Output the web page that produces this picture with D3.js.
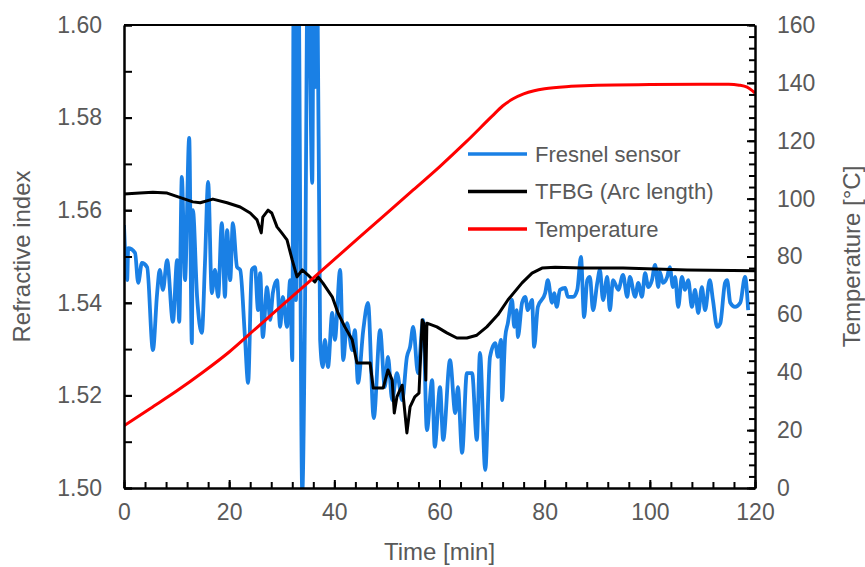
<!DOCTYPE html>
<html>
<head>
<meta charset="utf-8">
<script src="https://cdn.jsdelivr.net/npm/d3@7"></script>
<style>
  body { margin: 0; background: #fff; }
  svg text { font-family: "Liberation Sans", Arial, sans-serif; fill: #595959; }
</style>
</head>
<body>
<div id="chart"></div>
<script>
// Fresnel sensor (refractive index)
let fresnelTime = [0,0.6,0.8,2.1,2.7,3.4,4.4,5.5,6.3,6.8,7.4,8.2,9.3,10.1,10.5,11.0,11.6,12.4,12.9,13.1,13.9,14.8,15.4,16.0,16.7,17.3,17.9,18.6,19.2,19.6,20.2,20.7,21.5,22.1,23.0,23.6,24.3,24.9,25.5,25.9,26.4,27.2,27.8,28.3,29.1,29.7,30.2,31.0,31.6,32.0,32.3,32.7,33.1,33.9,34.4,35.0,35.8,36.1,36.3,36.7,37.3,37.8,38.2,38.8,39.6,40.1,41.1,41.7,42.4,43.4,43.9,44.5,45.5,46.4,47.5,48.7,49.6,50.2,51.0,51.9,52.9,53.8,54.4,55.0,55.9,56.9,57.6,58.6,59.1,60.1,60.7,62.0,63.0,63.5,64.3,65.2,66.2,67.1,67.7,68.7,69.6,70.6,71.1,71.7,71.9,72.5,73.0,73.8,74.2,74.7,74.9,75.7,76.3,76.8,77.6,78.0,78.7,80.1,80.6,81.4,81.8,82.3,82.9,83.9,84.4,85.4,86.2,86.9,87.5,88.1,88.6,89.2,90.0,90.5,91.1,91.9,92.4,93.0,94.0,94.9,95.7,96.2,97.2,97.8,98.5,99.1,99.7,100.4,101.0,101.6,101.9,102.5,103.3,103.8,104.4,104.8,105.4,106.1,106.7,107.3,108.0,108.6,109.2,109.9,110.5,111.4,112.0,112.8,113.4,114.3,114.7,115.3,116.2,117.2,118.1,118.7];
let fresnelRI = [1.5568,1.5449,1.5518,1.5508,1.5443,1.5486,1.5477,1.5298,1.5421,1.5471,1.5428,1.5492,1.5359,1.5492,1.5359,1.5672,1.5449,1.5756,1.5313,1.5600,1.5413,1.5335,1.5486,1.5661,1.5421,1.5471,1.5413,1.5572,1.5413,1.5557,1.5449,1.5572,1.5477,1.5471,1.5326,1.5227,1.5471,1.5477,1.5384,1.5464,1.5326,1.5434,1.5363,1.5421,1.5449,1.5348,1.5413,1.5348,1.5449,1.5276,1.6200,1.5406,1.6200,1.4990,1.5360,1.6200,1.5659,1.6200,1.5866,1.6200,1.5320,1.5261,1.5320,1.5261,1.5378,1.5320,1.5471,1.5276,1.5356,1.5298,1.5341,1.5227,1.5341,1.5400,1.5151,1.5341,1.5218,1.5283,1.5190,1.5248,1.5190,1.5283,1.5305,1.5348,1.5248,1.5363,1.5125,1.5233,1.5089,1.5218,1.5104,1.5276,1.5162,1.5218,1.5076,1.5248,1.5248,1.5104,1.5292,1.5039,1.5283,1.5313,1.5283,1.5320,1.5190,1.5326,1.5356,1.5406,1.5348,1.5384,1.5326,1.5400,1.5413,1.5384,1.5406,1.5305,1.5391,1.5421,1.5449,1.5400,1.5421,1.5391,1.5428,1.5432,1.5413,1.5413,1.5428,1.5499,1.5369,1.5449,1.5456,1.5384,1.5443,1.5471,1.5406,1.5456,1.5384,1.5449,1.5428,1.5460,1.5413,1.5456,1.5413,1.5443,1.5413,1.5464,1.5434,1.5449,1.5482,1.5434,1.5467,1.5443,1.5456,1.5477,1.5434,1.5456,1.5391,1.5456,1.5428,1.5449,1.5391,1.5428,1.5378,1.5434,1.5384,1.5449,1.5406,1.5348,1.5356,1.5443,1.5449,1.5400,1.5391,1.5400,1.5456,1.5384];

// TFBG (arc length) refractive index
let tfbgTime = [0,3.0,5.5,8.2,11.0,13.1,14.5,16.9,19.6,22.1,24.0,25.3,26.1,26.4,27.4,28.1,29.1,30.0,31.0,32.0,32.9,33.9,35.0,36.3,36.9,37.8,39.6,40.7,42.0,43.4,44.3,45.8,46.8,47.4,49.3,50.2,51.0,51.4,51.9,52.9,53.8,54.4,55.3,56.1,56.7,57.0,57.4,57.6,59.5,61.4,63.3,65.2,67.1,69.0,71.1,73.0,75.7,77.6,79.5,82.0,87.1,94.9,107.1,120];
let tfbgRI = [1.5635,1.5637,1.5639,1.5637,1.5626,1.5618,1.5616,1.5624,1.5616,1.5607,1.5594,1.5579,1.5551,1.5585,1.5600,1.5594,1.5564,1.5551,1.5536,1.5492,1.5456,1.5471,1.5460,1.5445,1.5456,1.5443,1.5413,1.5378,1.5348,1.5320,1.5270,1.5270,1.5270,1.5216,1.5216,1.5255,1.5233,1.5162,1.5197,1.5222,1.5119,1.5175,1.5197,1.5205,1.5363,1.5356,1.5233,1.5356,1.5348,1.5335,1.5324,1.5324,1.5330,1.5348,1.5374,1.5406,1.5443,1.5464,1.5475,1.5477,1.5475,1.5475,1.5471,1.5469];

// Temperature in degrees C
let tempTime = [0,5,10,15,20,25,30,35,40,45,50,55,60,65,70,72,74,76,78,80,85,90,100,110,115,117,118.5,120];
let tempC = [21.5,27.5,33.5,40,47,55,63,71,79,87,95,103,111,119.5,128.5,132,134.5,136.2,137.3,138,138.8,139.2,139.4,139.5,139.5,139.2,138.5,136.5];

// axis ticks
let xTicks = [0,20,40,60,80,100,120];
let yLeftTicks = [1.50,1.52,1.54,1.56,1.58,1.60];
let yRightTicks = [0,20,40,60,80,100,120,140,160];

let legendNames = ["Fresnel sensor", "TFBG (Arc length)", "Temperature"];
let legendColors = ["#1a80e5", "#000000", "#ff0000"];

let svgWidth = 865, svgHeight = 567;
let margin = {left: 124, right: 110, top: 25, bottom: 79};
let plotW = svgWidth - margin.left - margin.right;
let plotH = svgHeight - margin.top - margin.bottom;

let svg = d3.select("#chart").append("svg")
  .attr("width", svgWidth)
  .attr("height", svgHeight);

let g = svg.append("g")
  .attr("transform", `translate(${margin.left},${margin.top})`);

let xScale = d3.scaleLinear().domain([0,120]).range([0, plotW]);
let yLeft = d3.scaleLinear().domain([1.50,1.60]).range([plotH, 0]);
let yRight = d3.scaleLinear().domain([0,160]).range([plotH, 0]);

g.append("clipPath").attr("id", "clip")
  .append("rect").attr("x", 0).attr("y", 0).attr("width", plotW).attr("height", plotH + 1);

// lines
let lines = g.append("g").attr("clip-path", "url(#clip)");

let fresnelLine = d3.line()
  .x((d,i) => xScale(fresnelTime[i]))
  .y(d => yLeft(d))
  .curve(d3.curveMonotoneX);
lines.append("path").datum(fresnelRI)
  .attr("d", fresnelLine)
  .attr("fill", "none").attr("stroke", legendColors[0])
  .attr("stroke-width", 3.8).attr("stroke-linejoin", "round");

let tfbgLine = d3.line()
  .x((d,i) => xScale(tfbgTime[i]))
  .y(d => yLeft(d));
lines.append("path").datum(tfbgRI)
  .attr("d", tfbgLine)
  .attr("fill", "none").attr("stroke", legendColors[1])
  .attr("stroke-width", 3).attr("stroke-linejoin", "round");

let tempLine = d3.line()
  .x((d,i) => xScale(tempTime[i]))
  .y(d => yRight(d))
  .curve(d3.curveMonotoneX);
lines.append("path").datum(tempC)
  .attr("d", tempLine)
  .attr("fill", "none").attr("stroke", legendColors[2])
  .attr("stroke-width", 3);

// axes: minor ticks first, then labelled majors
function styleAxis(sel) {
  sel.select(".domain").attr("stroke", "#000").attr("stroke-width", 2);
  sel.selectAll(".tick line").attr("stroke", "#000").attr("stroke-width", 2);
  sel.selectAll("text").attr("font-size", 23).attr("fill", "#595959")
    .attr("font-family", "Liberation Sans, Arial, sans-serif");
}

let minorX = d3.range(0,121,4);
let minorLeft = d3.range(0,11).map(i => 1.50 + i*0.01);
let minorRight = d3.range(0,161,4);

g.append("g").attr("transform", `translate(0,${plotH})`)
  .call(d3.axisBottom(xScale).tickValues(minorX).tickSizeInner(-6).tickSizeOuter(0).tickFormat(""))
  .call(styleAxis);
g.append("g").attr("transform", `translate(0,${plotH})`)
  .call(d3.axisBottom(xScale).tickValues(xTicks).tickSizeInner(-8).tickSizeOuter(0).tickPadding(16).tickFormat(d3.format("d")))
  .call(styleAxis);

g.append("g")
  .call(d3.axisLeft(yLeft).tickValues(minorLeft).tickSizeInner(-8).tickSizeOuter(0).tickFormat(""))
  .call(styleAxis);
g.append("g")
  .call(d3.axisLeft(yLeft).tickValues(yLeftTicks).tickSizeInner(-8).tickSizeOuter(0).tickPadding(22).tickFormat(d3.format(".2f")))
  .call(styleAxis);

g.append("g").attr("transform", `translate(${plotW},0)`)
  .call(d3.axisRight(yRight).tickValues(minorRight).tickSizeInner(-6).tickSizeOuter(0).tickFormat(""))
  .call(styleAxis);
g.append("g").attr("transform", `translate(${plotW},0)`)
  .call(d3.axisRight(yRight).tickValues(yRightTicks).tickSizeInner(-8).tickSizeOuter(0).tickPadding(22).tickFormat(d3.format("d")))
  .call(styleAxis);

// top border
g.append("line").attr("x1", 0).attr("x2", plotW).attr("y1", 0).attr("y2", 0)
  .attr("stroke", "#000").attr("stroke-width", 2);

// axis titles
svg.append("text")
  .attr("x", margin.left + plotW/2).attr("y", 560)
  .attr("text-anchor", "middle").attr("font-size", 24)
  .text("Time [min]");
svg.append("text")
  .attr("transform", `translate(30,${margin.top + plotH/2}) rotate(-90)`)
  .attr("text-anchor", "middle").attr("font-size", 24)
  .text("Refractive index");
svg.append("text")
  .attr("transform", `translate(860,${margin.top + plotH/2}) rotate(-90)`)
  .attr("text-anchor", "middle").attr("font-size", 24)
  .text("Temperature [°C]");

// legend
let legend = svg.append("g");
legendNames.forEach((name, i) => {
  let ly = 154 + i*37.5;
  legend.append("line").attr("x1", 468).attr("x2", 527).attr("y1", ly).attr("y2", ly)
    .attr("stroke", legendColors[i]).attr("stroke-width", 3.5);
  legend.append("text").attr("x", 535).attr("y", ly).attr("dy", "0.35em")
    .attr("font-size", 22).text(name);
});
</script>
</body>
</html>
